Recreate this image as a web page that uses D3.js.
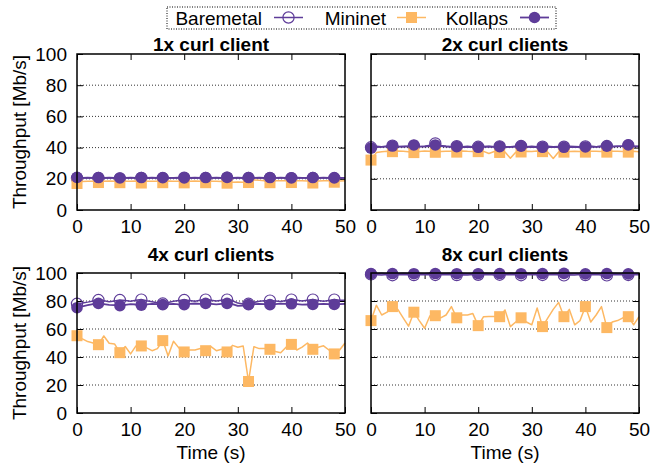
<!DOCTYPE html>
<html>
<head>
<meta charset="utf-8">
<script src="https://cdn.jsdelivr.net/npm/d3@7"></script>
<style>
  body { margin: 0; background: #fff; }
  svg { display: block; font-family: 'Liberation Sans', Arial, sans-serif; }
</style>
</head>
<body>
<div id="chart"></div>
<script>
// ---- data (throughput in Mb/s, one sample per second, t = 0..50) ----
const seconds = d3.range(0, 51);
const markerEvery = 4;
const xTicks = [0, 10, 20, 30, 40, 50];
const yTicks = [0, 20, 40, 60, 80, 100];
const seriesNames = ['Baremetal', 'Mininet', 'Kollaps'];
const panelTitles = ['1x curl client', '2x curl clients', '4x curl clients', '8x curl clients'];

const baremetal1x = [20.4,20.6,20.5,20.7,20.5,20.4,20.6,20.5,20.3,20.6,20.5,20.7,20.6,20.4,20.5,20.6,20.5,20.4,20.6,20.5,20.7,20.5,20.4,20.6,20.5,20.5,20.6,20.4,20.7,20.5,20.6,20.4,20.5,20.6,20.5,20.7,20.4,20.5,20.6,20.5,20.4,20.6,20.5,20.7,20.5,20.4,20.6,20.5,20.5,20.6,20.5];
const mininet1x = [17.0,18.3,18.5,18.4,17.6,18.5,18.6,18.4,17.5,18.5,18.4,18.6,17.3,18.5,18.4,18.5,17.5,18.6,18.5,18.4,17.4,18.5,18.6,18.5,17.5,18.4,18.5,18.3,17.2,17.8,17.9,17.8,17.6,19.3,19.0,18.8,17.5,18.7,18.8,18.7,17.6,18.7,18.8,18.6,17.3,18.6,18.8,18.7,17.8,18.6,18.7];
const kollaps1x = [20.9,20.6,20.7,20.6,20.8,20.6,20.7,20.6,20.5,20.6,20.7,20.6,20.8,20.6,20.7,20.6,20.7,20.6,20.6,20.7,20.6,20.6,20.7,20.6,20.8,20.6,20.7,20.6,20.9,20.6,20.7,20.6,20.8,20.6,20.7,20.6,20.8,20.6,20.7,20.6,20.6,20.7,20.6,20.6,20.8,20.6,20.7,20.6,20.5,20.6,20.6];

const baremetal2x = [40.2,40.8,40.6,41.0,41.2,40.7,40.9,40.8,41.0,40.6,40.9,41.5,42.7,41.3,40.8,40.6,40.9,40.5,40.8,40.6,40.5,40.7,40.8,40.5,40.8,40.6,40.4,40.7,41.0,40.6,40.8,40.5,40.6,40.8,40.5,40.7,40.6,40.8,40.7,40.5,40.7,40.9,40.6,40.8,41.0,40.7,40.9,41.1,41.5,40.9,40.8];
const mininet2x = [32.0,36.8,37.4,37.6,37.4,37.8,37.6,37.3,36.8,37.5,37.8,37.6,37.0,37.5,37.7,37.6,37.1,37.8,37.6,37.5,37.4,37.6,36.2,37.5,36.9,37.2,33.2,37.0,37.2,37.6,37.5,37.8,37.4,37.0,33.0,37.2,37.1,37.5,37.6,37.5,37.1,37.6,37.7,37.5,37.1,37.6,37.7,37.5,37.1,37.6,37.4];
const kollaps2x = [39.7,40.3,40.5,40.6,41.0,40.6,40.5,40.8,41.7,40.8,40.6,40.9,41.7,41.0,40.7,40.5,40.6,40.4,40.5,40.3,40.2,40.4,40.6,40.5,40.6,40.4,40.5,40.7,40.9,40.5,40.4,40.3,40.2,40.5,40.3,40.4,40.2,40.4,40.5,40.3,40.4,40.6,40.5,40.7,40.9,40.6,40.8,41.0,41.7,40.8,40.6];

const baremetal4x = [78.0,78.5,79.2,80.0,80.7,80.2,79.5,80.0,80.7,80.3,79.8,80.5,81.0,80.2,79.5,78.8,78.2,79.0,79.8,80.3,80.7,80.4,79.8,80.5,81.0,80.6,80.0,80.5,81.0,80.2,78.5,77.8,78.0,79.0,79.8,80.2,80.3,80.0,79.6,80.4,81.0,80.5,80.0,80.6,81.0,80.3,79.8,80.4,81.0,80.6,80.5];
const mininet4x = [55.2,53.0,51.0,50.0,48.8,55.0,49.8,49.3,43.1,47.5,42.2,47.9,47.9,46.5,44.5,46.0,51.7,40.8,51.2,46.5,43.6,45.0,45.0,46.0,44.5,47.4,44.5,45.5,43.6,48.3,47.0,47.9,22.5,47.4,46.0,46.0,45.5,44.0,43.0,47.0,49.0,45.0,47.0,50.0,45.5,47.0,48.0,45.0,42.2,45.0,50.0];
const kollaps4x = [75.2,76.2,77.0,77.8,78.3,77.8,77.2,77.0,76.7,77.2,77.8,77.5,77.0,77.6,78.0,77.7,77.4,77.8,78.0,77.6,77.4,77.9,78.2,78.0,78.3,78.0,77.6,78.0,78.3,77.8,76.5,76.8,77.4,77.8,78.0,77.7,77.4,77.8,78.1,77.9,78.0,77.7,77.4,77.6,77.5,77.8,78.0,77.7,77.5,77.8,78.0];

const baremetal8x = [99.0,98.8,98.6,98.9,98.4,98.8,99.0,98.7,98.5,98.9,98.7,98.8,98.6,98.9,98.7,99.0,98.5,98.8,98.6,98.9,98.7,98.8,99.0,98.6,98.8,98.9,98.7,98.8,98.4,98.9,98.7,98.8,98.6,98.9,98.7,99.0,98.3,98.8,98.6,98.9,98.5,98.8,99.0,98.6,98.3,98.9,98.7,98.8,98.6,98.9,98.7];
const mininet8x = [66.0,77.0,70.0,72.0,76.0,74.0,68.0,62.0,72.0,66.0,60.5,69.5,69.5,68.0,70.0,76.0,68.0,70.0,70.0,71.0,62.4,68.8,69.0,69.0,68.8,73.6,61.7,65.0,68.0,65.0,63.0,75.0,61.7,68.0,74.0,79.0,68.8,74.0,63.0,66.0,76.0,65.0,70.0,76.0,61.0,65.0,66.0,68.0,68.8,63.0,68.8];
const kollaps8x = [99.6,99.5,99.7,99.4,99.6,99.5,99.7,99.6,99.5,99.6,99.4,99.7,99.6,99.5,99.6,99.7,99.5,99.6,99.4,99.6,99.5,99.7,99.6,99.5,99.6,99.4,99.7,99.6,99.5,99.6,99.7,99.5,99.6,99.4,99.6,99.5,99.7,99.6,99.5,99.6,99.4,99.7,99.6,99.5,99.6,99.7,99.5,99.6,99.4,99.6,99.5];

const panelData = [
  [baremetal1x, mininet1x, kollaps1x],
  [baremetal2x, mininet2x, kollaps2x],
  [baremetal4x, mininet4x, kollaps4x],
  [baremetal8x, mininet8x, kollaps8x],
];

// ---- layout ----
const W = 665;
const H = 463;
const fontSize = 19;
const purple = '#5e3c99';
const orange = '#fdb863';

const panels = [
  { x0: 77, x1: 345, y0: 54, y1: 210, titleY: 50.5, yLabels: true },
  { x0: 371, x1: 639, y0: 54, y1: 210, titleY: 50.5, yLabels: false },
  { x0: 77, x1: 345, y0: 273, y1: 413, titleY: 260.7, yLabels: true, xTitle: true },
  { x0: 371, x1: 639, y0: 273, y1: 413, titleY: 260.7, yLabels: false, xTitle: true },
];

// style per series: Baremetal open circle, Mininet filled square, Kollaps filled circle
const seriesStyle = [
  { color: purple, marker: 'open', width: 1.5 },
  { color: orange, marker: 'square', width: 1.5 },
  { color: purple, marker: 'dot', width: 1.8 },
];

const svg = d3.select('#chart')
  .append('svg')
  .attr('width', W)
  .attr('height', H);

function drawMarkers(g, pts, style) {
  if (style.marker === 'square') {
    g.selectAll('rect.mk')
      .data(pts)
      .join('rect')
      .attr('class', 'mk')
      .attr('x', (d) => d[0] - 5.5)
      .attr('y', (d) => d[1] - 5.5)
      .attr('width', 11)
      .attr('height', 11)
      .attr('fill', style.color);
  } else {
    g.selectAll('circle.mk')
      .data(pts)
      .join('circle')
      .attr('class', 'mk')
      .attr('cx', (d) => d[0])
      .attr('cy', (d) => d[1])
      .attr('r', style.marker === 'open' ? 5.6 : 5.8)
      .attr('fill', style.marker === 'open' ? 'none' : style.color)
      .attr('stroke', style.color)
      .attr('stroke-width', style.marker === 'open' ? 1.2 : 0);
  }
}

panels.forEach((p, pi) => {
  const x = d3.scaleLinear().domain([0, 50]).range([p.x0, p.x1]);
  const y = d3.scaleLinear().domain([0, 100]).range([p.y1, p.y0]);
  const g = svg.append('g').attr('class', `panel p${pi}`);

  // dotted grid
  g.append('g')
    .selectAll('line')
    .data(yTicks.filter((t) => t > 0 && t < 100))
    .join('line')
    .attr('x1', p.x0)
    .attr('x2', p.x1)
    .attr('y1', (d) => y(d))
    .attr('y2', (d) => y(d))
    .attr('stroke', '#333')
    .attr('stroke-width', 1)
    .attr('stroke-dasharray', '1,2');

  // axes with inward ticks, mirrored on top and right
  const axL = g.append('g')
    .attr('transform', `translate(${p.x0},0)`)
    .call(d3.axisLeft(y).tickValues(yTicks).tickSize(-6).tickPadding(10)
      .tickFormat(p.yLabels ? d3.format('d') : () => ''));
  const axR = g.append('g')
    .attr('transform', `translate(${p.x1},0)`)
    .call(d3.axisRight(y).tickValues(yTicks).tickSize(-6).tickFormat(() => ''));
  const axB = g.append('g')
    .attr('transform', `translate(0,${p.y1})`)
    .call(d3.axisBottom(x).tickValues(xTicks).tickSize(-6).tickPadding(9.5));
  const axT = g.append('g')
    .attr('transform', `translate(0,${p.y0})`)
    .call(d3.axisTop(x).tickValues(xTicks).tickSize(-6).tickFormat(() => ''));

  [axL, axR, axB, axT].forEach((ax) => {
    ax.select('.domain').remove();
    ax.attr('font-size', fontSize).attr('font-family', null);
    ax.selectAll('.tick line').attr('stroke', '#000').attr('stroke-width', 1);
    ax.selectAll('.tick text').attr('fill', '#000');
  });

  // series: lines through every sample, markers every 4 s
  panelData[pi].forEach((values, si) => {
    const style = seriesStyle[si];
    const sg = g.append('g').attr('class', `series s${si}`);
    const pts = seconds.map((t, i) => [x(t), y(values[i])]);
    sg.append('path')
      .attr('d', d3.line()(pts))
      .attr('fill', 'none')
      .attr('stroke', style.color)
      .attr('stroke-width', style.width)
      .attr('stroke-linejoin', 'round');
    drawMarkers(sg, pts.filter((d, i) => seconds[i] % markerEvery === 0), style);
  });

  // frame
  g.append('rect')
    .attr('x', p.x0)
    .attr('y', p.y0)
    .attr('width', p.x1 - p.x0)
    .attr('height', p.y1 - p.y0)
    .attr('fill', 'none')
    .attr('stroke', '#000')
    .attr('stroke-width', 1.5);

  g.append('text')
    .attr('x', (p.x0 + p.x1) / 2)
    .attr('y', p.titleY)
    .attr('text-anchor', 'middle')
    .attr('font-size', fontSize)
    .attr('font-weight', 'bold')
    .text(panelTitles[pi]);

  if (p.yLabels) {
    g.append('text')
      .attr('transform', `translate(26,${(p.y0 + p.y1) / 2}) rotate(-90)`)
      .attr('text-anchor', 'middle')
      .attr('font-size', fontSize)
      .text('Throughput [Mb/s]');
  }

  if (p.xTitle) {
    g.append('text')
      .attr('x', (p.x0 + p.x1) / 2)
      .attr('y', 458.5)
      .attr('text-anchor', 'middle')
      .attr('font-size', fontSize)
      .text('Time (s)');
  }
});

// ---- legend ----
const legend = svg.append('g').attr('class', 'legend');
legend.append('rect')
  .attr('x', 167)
  .attr('y', 7)
  .attr('width', 389)
  .attr('height', 22)
  .attr('fill', 'none')
  .attr('stroke', '#000')
  .attr('stroke-width', 1)
  .attr('stroke-dasharray', '1,1.5');

const legendTextEnd = [262, 386, 508];
const legendLine = [[274, 303], [397, 426], [520, 549]];

seriesNames.forEach((name, i) => {
  const style = seriesStyle[i];
  legend.append('text')
    .attr('x', legendTextEnd[i])
    .attr('y', 25)
    .attr('text-anchor', 'end')
    .attr('font-size', fontSize)
    .text(name);
  const [a, b] = legendLine[i];
  const lg = legend.append('g');
  lg.append('line')
    .attr('x1', a)
    .attr('x2', b)
    .attr('y1', 17.5)
    .attr('y2', 17.5)
    .attr('stroke', style.color)
    .attr('stroke-width', style.width);
  drawMarkers(lg, [[(a + b) / 2, 17.5]], style);
});
</script>
</body>
</html>
